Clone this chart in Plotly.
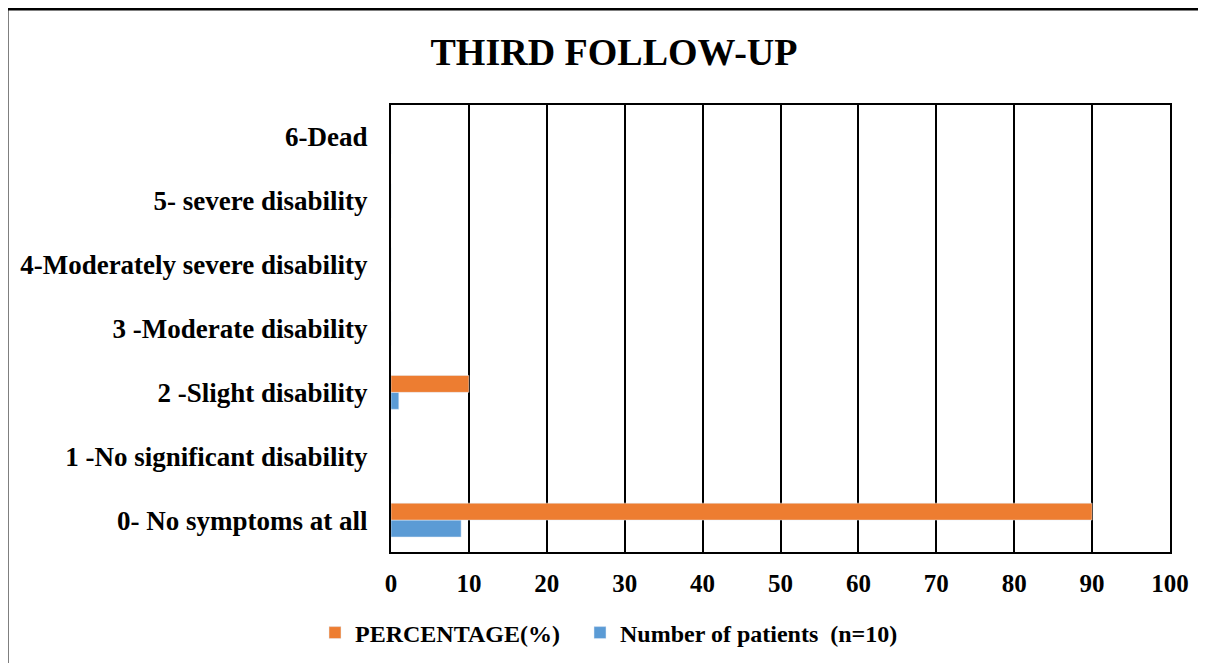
import plotly.graph_objects as go

categories = ["0- No symptoms at all", "1 -No significant disability", "2 -Slight disability",
              "3 -Moderate disability", "4-Moderately severe disability", "5- severe disability", "6-Dead"]
percentage = [90, 0, 10, 0, 0, 0, 0]
patients = [9, 0, 1, 0, 0, 0, 0]

FONT = "Liberation Serif"
W, H = 1206, 663
OFF = 8  # page body margin
ML, MR, MT, MB = 391 - OFF, W - (1170 - OFF), 105 - OFF, H - (552 - OFF)
pw, ph = W - ML - MR, H - MT - MB


def px_x(x):
    return (x - OFF - ML) / pw


def px_y(y):
    return (H - MB - (y - OFF)) / ph


fig = go.Figure()
# blue first so that it sits below orange in the group
fig.add_trace(go.Bar(y=categories, x=patients, orientation="h", name="<b>Number of patients  (n=10)</b>",
                     marker=dict(color="#5B9BD5"), legend="legend2", showlegend=True))
fig.add_trace(go.Bar(y=categories, x=percentage, orientation="h", name="<b>PERCENTAGE(%)</b>",
                     marker=dict(color="#ED7D31"), legend="legend", showlegend=True))

leg_font = dict(size=24, family=FONT, color="black")
fig.update_layout(
    width=W, height=H,
    showlegend=True,
    margin=dict(l=ML, r=MR, t=MT, b=MB, autoexpand=False),
    paper_bgcolor="white", plot_bgcolor="white",
    barmode="group", bargap=0.47, bargroupgap=0,
    font=dict(family=FONT, color="black", size=20),
    title=dict(text="<b>THIRD FOLLOW-UP</b>", x=(614 - OFF) / W, xref="container", xanchor="center",
               y=1 - (52 - OFF) / H, yref="container", yanchor="middle",
               font=dict(size=38, family=FONT, color="black")),
    legend=dict(orientation="h", x=px_x(315), xanchor="left", y=px_y(633), yanchor="middle",
                font=leg_font, itemwidth=30, bgcolor="rgba(0,0,0,0)"),
    legend2=dict(orientation="h", x=px_x(580), xanchor="left", y=px_y(633), yanchor="middle",
                 font=leg_font, itemwidth=30, bgcolor="rgba(0,0,0,0)", visible=True),
    xaxis=dict(range=[0, 100], showgrid=True, gridcolor="black", gridwidth=2,
               showline=True, linecolor="black", linewidth=2, mirror=True, zeroline=False,
               ticks="", tickfont=dict(size=25, family=FONT, color="black"), ticklabelstandoff=8,
               automargin=False,
               tickvals=list(range(0, 101, 10)), ticktext=[f"<b>{v}</b>" for v in range(0, 101, 10)]),
    yaxis=dict(showline=True, linecolor="black", linewidth=2, mirror=True, showgrid=False,
               ticks="", tickfont=dict(size=27, family=FONT, color="black"), ticklabelstandoff=16,
               automargin=False,
               tickvals=categories, ticktext=[f"<b>{c}</b>" for c in categories]),
)

# outer frame
fig.add_shape(type="rect", xref="paper", yref="paper",
              x0=px_x(7), x1=px_x(W + 40),
              y0=px_y(H + 40), y1=px_y(9),
              line=dict(color="black", width=3), layer="below")

fig.write_html("out.html")
